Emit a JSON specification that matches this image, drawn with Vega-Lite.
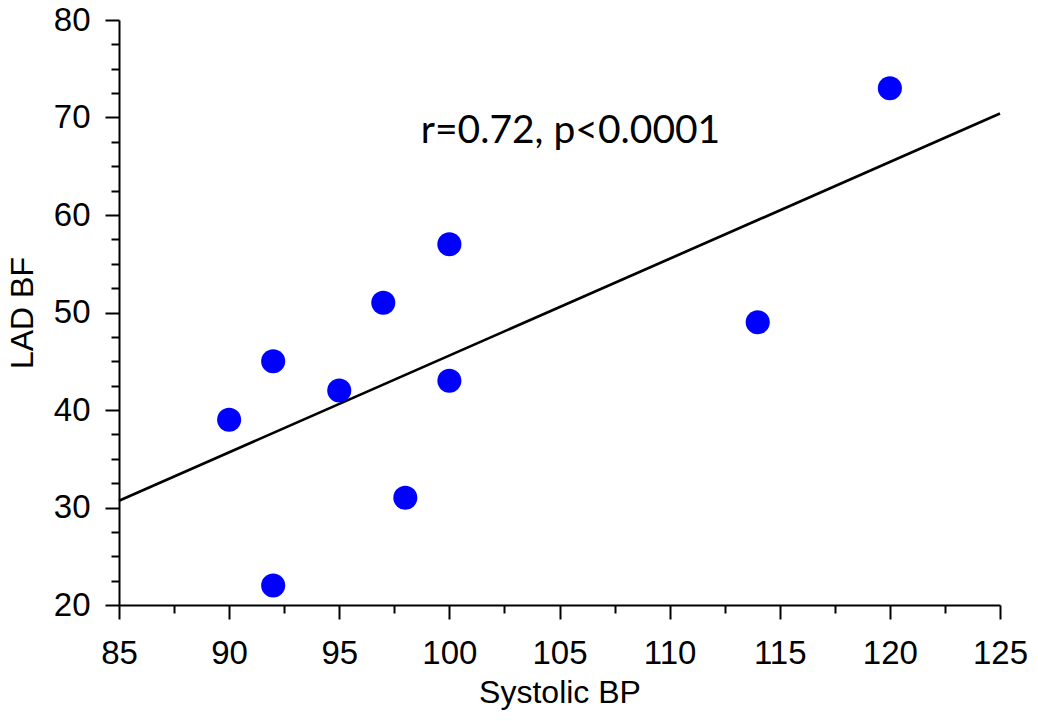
{
  "$schema": "https://vega.github.io/schema/vega-lite/v6.json",
  "autosize": {"type": "none"},
  "width": 881,
  "height": 585,
  "padding": {"left": 119, "top": 20, "right": 38, "bottom": 116},
  "background": "white",
  "config": {
    "view": {"stroke": null},
    "axis": {"grid": false, "domainColor": "black", "tickColor": "black", "labelColor": "black", "titleColor": "black", "domainWidth": 2, "tickWidth": 2, "labelFont": "Liberation Sans", "titleFont": "Liberation Sans", "titleFontWeight": "normal", "labelFlush": false, "labelOverlap": false}
  },
  "datasets": {
    "points": [
      {"sbp": 90, "bf": 39},
      {"sbp": 92, "bf": 45},
      {"sbp": 92, "bf": 22},
      {"sbp": 95, "bf": 42},
      {"sbp": 97, "bf": 51},
      {"sbp": 98, "bf": 31},
      {"sbp": 100, "bf": 57},
      {"sbp": 100, "bf": 43},
      {"sbp": 114, "bf": 49},
      {"sbp": 120, "bf": 73}
    ],
    "fit": [
      {"sbp": 85, "bf": 30.7},
      {"sbp": 125, "bf": 70.4}
    ],
    "note": [
      {"sbp": 98.7, "bf": 67.4, "label": "r=0.72, p<0.0001"}
    ]
  },
  "layer": [
    {
      "data": {"name": "fit"},
      "mark": {"type": "line", "color": "black", "strokeWidth": 2.7},
      "encoding": {
        "x": {"field": "sbp", "type": "quantitative", "scale": {"domain": [85, 125], "nice": false, "zero": false},
          "axis": {"orient": "bottom", "values": [85, 90, 95, 100, 105, 110, 115, 120, 125], "tickSize": 14, "labelFontSize": 33, "labelPadding": 18, "title": "Systolic BP", "titleFontSize": 32, "titlePadding": 7}},
        "y": {"field": "bf", "type": "quantitative", "scale": {"domain": [20, 80], "nice": false, "zero": false},
          "axis": {"orient": "left", "values": [20, 30, 40, 50, 60, 70, 80], "tickSize": 14, "labelFontSize": 33, "labelPadding": 15, "title": "LAD BF", "titleFontSize": 32, "titlePadding": 14}}
      }
    },
    {
      "data": {"name": "points"},
      "mark": {"type": "point", "shape": "circle", "filled": true, "color": "#0000FF", "opacity": 1, "size": 580},
      "encoding": {
        "x": {"field": "sbp", "type": "quantitative",
          "axis": {"orient": "bottom", "values": [87.5, 92.5, 97.5, 102.5, 107.5, 112.5, 117.5, 122.5], "tickSize": 8, "labels": false, "domain": false, "title": null}},
        "y": {"field": "bf", "type": "quantitative",
          "axis": {"orient": "left", "values": [22.5, 25, 27.5, 32.5, 35, 37.5, 42.5, 45, 47.5, 52.5, 55, 57.5, 62.5, 65, 67.5, 72.5, 75, 77.5], "tickSize": 8, "labels": false, "domain": false, "title": null}}
      }
    },
    {
      "data": {"name": "note"},
      "mark": {"type": "text", "align": "left", "baseline": "alphabetic", "font": "Lato", "fontSize": 39, "color": "black"},
      "encoding": {
        "x": {"field": "sbp", "type": "quantitative", "axis": null},
        "y": {"field": "bf", "type": "quantitative", "axis": null},
        "text": {"field": "label"}
      }
    }
  ],
  "resolve": {"axis": {"x": "independent", "y": "independent"}}
}
